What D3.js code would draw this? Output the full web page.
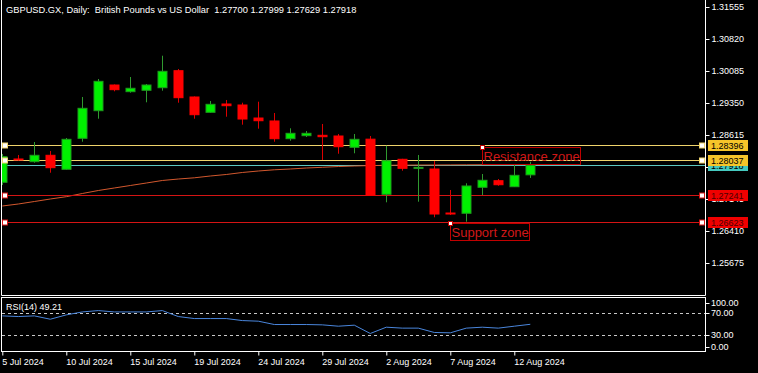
<!DOCTYPE html>
<html>
<head>
<meta charset="utf-8">
<script src="https://cdn.jsdelivr.net/npm/d3@7"></script>
<style>
  body { margin: 0; background: #000; }
  svg { display: block; font-family: "Liberation Sans", Arial, sans-serif; }
  text { white-space: pre; }
</style>
</head>
<body>
<div id="chart"></div>
<script>
// GBPUSD daily candles (one per trading day, broker has Sunday bars)
var dates = ["5 Jul", "7 Jul", "8 Jul", "9 Jul", "10 Jul", "11 Jul", "12 Jul", "14 Jul", "15 Jul",
    "16 Jul", "17 Jul", "18 Jul", "19 Jul", "21 Jul", "22 Jul", "23 Jul", "24 Jul", "25 Jul",
    "26 Jul", "28 Jul", "29 Jul", "30 Jul", "31 Jul", "1 Aug", "2 Aug", "4 Aug", "5 Aug",
    "6 Aug", "7 Aug", "8 Aug", "9 Aug", "11 Aug", "12 Aug", "13 Aug"];

var opens = [1.27529, 1.28064, 1.28002, 1.28149, 1.27827, 1.28539, 1.29173, 1.29763, 1.29610,
    1.29642, 1.29701, 1.30092, 1.29488, 1.29136, 1.29327, 1.29304, 1.29005, 1.28937, 1.28530,
    1.28599, 1.28608, 1.28592, 1.28332, 1.28519, 1.27253, 1.28057, 1.27857, 1.27834, 1.26823,
    1.26817, 1.27414, 1.27565, 1.27427, 1.27700];
var highs = [1.28179, 1.28156, 1.28454, 1.28248, 1.28546, 1.29488, 1.29901, 1.29775, 1.29947,
    1.29786, 1.30436, 1.30131, 1.29500, 1.29396, 1.29419, 1.29357, 1.29380, 1.29120, 1.28769,
    1.28707, 1.28868, 1.28638, 1.28638, 1.28592, 1.28369, 1.28068, 1.28156, 1.28018, 1.27352,
    1.27506, 1.27719, 1.27604, 1.27926, 1.27999];
var lows = [1.27467, 1.28029, 1.27979, 1.27749, 1.27818, 1.28461, 1.28989, 1.29619, 1.29587,
    1.29366, 1.29633, 1.29357, 1.28989, 1.29127, 1.29035, 1.28852, 1.28760, 1.28461, 1.28484,
    1.28569, 1.28041, 1.28185, 1.28195, 1.27214, 1.27069, 1.27795, 1.27083, 1.26725, 1.26777,
    1.26624, 1.27237, 1.27450, 1.27427, 1.27629];
var closes = [1.28117, 1.28041, 1.28149, 1.27864, 1.28516, 1.29228, 1.29848, 1.29656, 1.29688,
    1.29763, 1.30078, 1.29472, 1.29081, 1.29320, 1.29288, 1.28982, 1.28943, 1.28530, 1.28654,
    1.28654, 1.28576, 1.28346, 1.28516, 1.27230, 1.28025, 1.27850, 1.27871, 1.26800, 1.26805,
    1.27444, 1.27575, 1.27473, 1.27689, 1.27918];

// moving average drawn on the price chart
var maValues = [1.26984, 1.27030, 1.27087, 1.27145, 1.27198, 1.27271, 1.27340, 1.27398, 1.27455,
    1.27512, 1.27570, 1.27604, 1.27632, 1.27673, 1.27708, 1.27754, 1.27788, 1.27816, 1.27834,
    1.27857, 1.27873, 1.27891, 1.27903, 1.27912, 1.27919, 1.27922, 1.27925, 1.27926, 1.27928,
    1.27930, 1.27932, 1.27934, 1.27936, 1.27938];

// RSI(14)
var rsiValues = [64.3, 63.1, 64.3, 58.3, 66.1, 71.4, 73.8, 71.4, 71.4, 71.4, 73.8, 63.1, 59.5,
    59.5, 59.5, 55.9, 54.8, 48.8, 48.8, 48.8, 48.2, 45.8, 47.6, 32.7, 44.0, 42.3, 42.3, 34.5,
    33.9, 42.3, 44.0, 42.3, 45.8, 49.21];

// horizontal levels (2 resistance, 2 support)
var levelPrices = [1.28396, 1.28037, 1.27241, 1.26623];
var levelKinds = ["res", "res", "sup", "sup"];

// text notes
var noteTexts = ["Resistance zone", "Support zone"];
var noteIdx = [30, 28];
var notePrices = [1.28333, 1.26587];

// axis ticks
var priceTicks = [1.31555, 1.30820, 1.30085, 1.29350, 1.28615, 1.27880, 1.27145, 1.26410, 1.25675];
var rsiTicks = [100, 70, 30, 0];
var rsiLevels = [70, 30];
var dateTickIdx = [0, 4, 8, 12, 16, 20, 24, 28, 32];
var dateTickLabels = ["5 Jul 2024", "10 Jul 2024", "15 Jul 2024", "19 Jul 2024", "24 Jul 2024",
    "29 Jul 2024", "2 Aug 2024", "7 Aug 2024", "12 Aug 2024"];

var title = "GBPUSD.GX, Daily:  British Pounds vs US Dollar  1.27700 1.27999 1.27629 1.27918";

// layout
var svgWidth = 758, svgHeight = 373;
var left = 1.5, right = 705.5;
var mainTop = 0, mainBottom = 295.5;
var rsiTop = 297.5, rsiBottom = 351.5;

var svg = d3.select("#chart").append("svg")
    .attr("width", svgWidth)
    .attr("height", svgHeight)
    .style("background", "#000");

// scales
var x = d3.scaleLinear().domain([0, 33]).range([2.3, 530.3]);
var y = d3.scaleLinear().domain([1.25675, 1.31555]).range([263, 7]);
var yRsi = d3.scaleLinear().domain([0, 100]).range([351.7, 296]);

var levelColor = function(i) { return levelKinds[i] === "res" ? "#efd36c" : "#d41414"; };
var tagColor = function(i) { return levelKinds[i] === "res" ? "#f6c42a" : "#f00000"; };
var tagText = function(i) { return levelKinds[i] === "res" ? "#000" : "#4a0000"; };

svg.append("clipPath").attr("id", "mainClip")
  .append("rect").attr("x", 2).attr("y", 0).attr("width", 703).attr("height", 295);

var main = svg.append("g").attr("clip-path", "url(#mainClip)");

// price axis on the right
var rightAxis = d3.axisRight(y)
    .tickValues(priceTicks)
    .tickSize(4)
    .tickFormat(d3.format(".5f"));

var axisG = svg.append("g")
    .attr("transform", "translate(" + right + ",0)")
    .call(rightAxis);
axisG.select(".domain").remove();
axisG.selectAll("line").attr("stroke", "#fff");
axisG.selectAll("text")
    .attr("fill", "#fff")
    .attr("font-size", "9px")
    .attr("font-family", "Liberation Sans, Arial, sans-serif")
    .attr("x", 6);

// bid line
var bid = closes[closes.length - 1];
main.append("line")
    .attr("x1", 2).attr("x2", right)
    .attr("y1", Math.round(y(bid)) + 0.5).attr("y2", Math.round(y(bid)) + 0.5)
    .attr("stroke", "#5cc6c0");

// moving average
main.append("path")
    .datum(maValues)
    .attr("fill", "none")
    .attr("stroke", "#d2582e")
    .attr("stroke-width", 1)
    .attr("d", d3.line().x(function(d, i) { return x(i); }).y(function(d) { return y(d); }));

// level lines
main.selectAll(".level")
    .data(levelPrices)
    .enter()
    .append("line")
    .attr("x1", 2).attr("x2", right)
    .attr("y1", function(d) { return Math.round(y(d)) + 0.5; })
    .attr("y2", function(d) { return Math.round(y(d)) + 0.5; })
    .attr("stroke", function(d, i) { return levelColor(i); });

// candles
var candles = main.selectAll(".candle")
    .data(d3.range(dates.length))
    .enter()
    .append("g");

candles.append("line")
    .attr("x1", function(i) { return Math.round(x(i)) + 0.5; })
    .attr("x2", function(i) { return Math.round(x(i)) + 0.5; })
    .attr("y1", function(i) { return y(highs[i]); })
    .attr("y2", function(i) { return y(lows[i]); })
    .attr("stroke", function(i) { return closes[i] >= opens[i] ? "#2f9a2f" : "#dd0000"; });

candles.append("rect")
    .attr("x", function(i) { return Math.round(x(i)) - 4; })
    .attr("width", 9)
    .attr("y", function(i) { return y(Math.max(opens[i], closes[i])); })
    .attr("height", function(i) { return Math.max(1, Math.abs(y(opens[i]) - y(closes[i]))); })
    .attr("fill", function(i) { return closes[i] >= opens[i] ? "#00f000" : "#ff0000"; })
    .attr("stroke", function(i) { return closes[i] >= opens[i] ? "#1d9a1d" : "#ff0000"; })
    .attr("stroke-width", 1);

// anchor squares at both ends of each level
levelPrices.forEach(function(p, i) {
    [5, 702].forEach(function(sx) {
        main.append("rect")
            .attr("x", sx - 2.5).attr("y", Math.round(y(p)) - 2)
            .attr("width", 5).attr("height", 5)
            .attr("fill", "#fff")
            .attr("stroke", levelColor(i));
    });
});

// zone notes
noteTexts.forEach(function(t, k) {
    var nx = Math.round(x(noteIdx[k])) + 0.5;
    var ny = Math.round(y(notePrices[k])) + 0.5;
    var g = main.append("g");
    var label = g.append("text")
        .attr("x", nx + 1)
        .attr("y", ny + 13.5)
        .attr("font-size", "13px")
        .attr("fill", "#d01818")
        .text(t);
    var w = label.node().getComputedTextLength();
    g.insert("rect", "text")
        .attr("x", nx).attr("y", ny)
        .attr("width", Math.round(w) + 2).attr("height", 17)
        .attr("fill", "none")
        .attr("stroke", "#c00000");
    g.append("rect")
        .attr("x", nx - 2).attr("y", ny - 2)
        .attr("width", 4).attr("height", 4)
        .attr("fill", "#fff")
        .attr("stroke", "#c00000");
});

// price tags on the axis (bid first so levels sit over it)
var tags = [{ p: bid, fill: "#45c9bf", txt: "#000" }];
levelPrices.forEach(function(p, i) {
    tags.push({ p: p, fill: tagColor(i), txt: tagText(i) });
});
var tagG = svg.selectAll(".tag")
    .data(tags)
    .enter()
    .append("g");
tagG.append("rect")
    .attr("x", 708).attr("width", 40)
    .attr("y", function(d) { return Math.round(y(d.p)) - 5; })
    .attr("height", 11)
    .attr("fill", function(d) { return d.fill; });
tagG.append("text")
    .attr("x", 711)
    .attr("y", function(d) { return Math.round(y(d.p)) + 4; })
    .attr("font-size", "9px")
    .attr("fill", function(d) { return d.txt; })
    .text(function(d) { return d.p.toFixed(5); });

// RSI window
svg.selectAll(".rsiLevel")
    .data(rsiLevels)
    .enter()
    .append("line")
    .attr("x1", 2).attr("x2", right)
    .attr("y1", function(d) { return Math.round(yRsi(d)) + 0.5; })
    .attr("y2", function(d) { return Math.round(yRsi(d)) + 0.5; })
    .attr("stroke", "#c8c8c8")
    .attr("stroke-dasharray", "3,3");

svg.append("path")
    .datum(rsiValues)
    .attr("fill", "none")
    .attr("stroke", "#4a86dc")
    .attr("stroke-width", 1)
    .attr("d", d3.line().x(function(d, i) { return x(i); }).y(function(d) { return yRsi(d); }));

svg.append("text")
    .attr("x", 6).attr("y", 309.5)
    .attr("font-size", "9px")
    .attr("fill", "#fff")
    .text("RSI(14) " + rsiValues[rsiValues.length - 1].toFixed(2));

rsiTicks.forEach(function(v) {
    var ty = Math.min(Math.max(yRsi(v), 302.5), 346.5);
    svg.append("line")
        .attr("x1", right).attr("x2", right + 4)
        .attr("y1", Math.round(ty) + 0.5).attr("y2", Math.round(ty) + 0.5)
        .attr("stroke", "#fff");
    svg.append("text")
        .attr("x", 711).attr("y", ty + 3.5)
        .attr("font-size", "9px")
        .attr("fill", "#fff")
        .text(v.toFixed(2));
});

// panel borders
var borders = svg.append("g").attr("stroke", "#fff").attr("fill", "none");
borders.append("path")
    .attr("d", "M" + left + "," + mainTop + "V" + mainBottom + "H" + right + "V" + mainTop);
borders.append("rect")
    .attr("x", left).attr("y", rsiTop)
    .attr("width", right - left).attr("height", rsiBottom - rsiTop);

// date axis
var bottomAxis = d3.axisBottom(x)
    .tickValues(dateTickIdx)
    .tickSize(4)
    .tickFormat(function(d, i) { return dateTickLabels[i]; });
var dateG = svg.append("g")
    .attr("transform", "translate(0," + rsiBottom + ")")
    .call(bottomAxis);
dateG.select(".domain").remove();
dateG.selectAll("line").attr("stroke", "#fff");
dateG.selectAll("text")
    .attr("fill", "#fff")
    .attr("font-size", "9px")
    .attr("font-family", "Liberation Sans, Arial, sans-serif")
    .attr("text-anchor", "start")
    .attr("x", -0.5);

// title
svg.append("text")
    .attr("x", 6).attr("y", 12.5)
    .attr("font-size", "9.3px")
    .attr("fill", "#fff")
    .text(title);
</script>
</body>
</html>
